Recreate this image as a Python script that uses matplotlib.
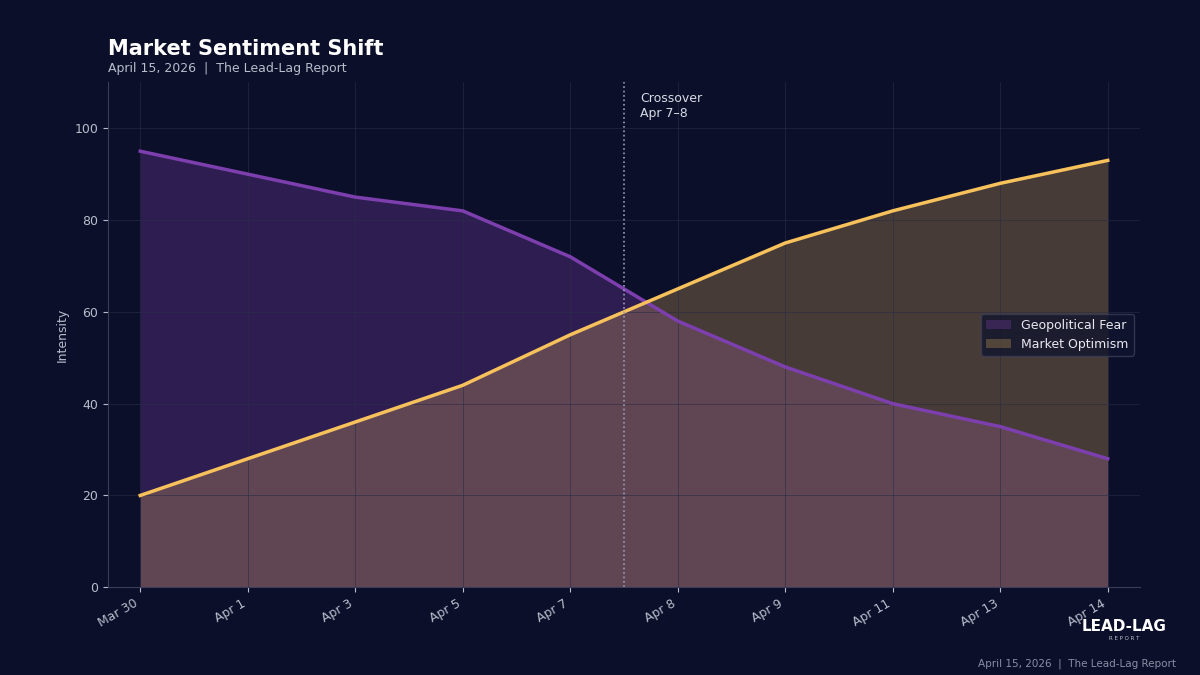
import matplotlib.pyplot as plt

# ---- Data ----
dates = ["Mar 30", "Apr 1", "Apr 3", "Apr 5", "Apr 7", "Apr 8", "Apr 9", "Apr 11", "Apr 13", "Apr 14"]
fear = [95, 90, 85, 82, 72, 58, 48, 40, 35, 28]
optimism = [20, 28, 36, 44, 55, 65, 75, 82, 88, 93]
crossover_pos = 4.5

BG = "#0c0f2a"
FEAR_C = "#7d3fae"
OPT_C = "#f7c15c"
TXT = "#b8bccb"

fig = plt.figure(figsize=(12, 6.75), dpi=100, facecolor=BG)
ax = fig.add_axes([0.09, 0.13, 0.86, 0.748], facecolor=BG)
x = list(range(len(dates)))

ax.fill_between(x, fear, color=FEAR_C, alpha=0.3, linewidth=0, label="Geopolitical Fear")
ax.fill_between(x, optimism, color=OPT_C, alpha=0.25, linewidth=0, label="Market Optimism")
ax.plot(x, fear, color=FEAR_C, lw=2.5)
ax.plot(x, optimism, color=OPT_C, lw=2.5)

ax.axvline(crossover_pos, color="#9a9cb8", ls=":", lw=1.2)
ax.text(crossover_pos + 0.15, 108, "Crossover\nApr 7\u20138", color="#d8dae4", fontsize=9, va="top")

ax.set_xlim(-0.3, 9.3)
ax.set_ylim(0, 110)
ax.set_yticks([0, 20, 40, 60, 80, 100])
ax.set_xticks(x)
ax.set_xticklabels(dates, rotation=30, ha="right")
ax.tick_params(colors=TXT, labelsize=9)
ax.grid(True, color="#2a2d48", lw=0.6, alpha=0.7)
for s in ["top", "right"]:
    ax.spines[s].set_visible(False)
for s in ["left", "bottom"]:
    ax.spines[s].set_color("#3a3d58")
ax.set_ylabel("Intensity", color=TXT, fontsize=9)

leg = ax.legend(loc="center right", facecolor="#12152e", edgecolor="#3a3d58", fontsize=9)
for t in leg.get_texts():
    t.set_color("#e8e9f0")

fig.text(0.09, 0.918, "Market Sentiment Shift", color="white", fontsize=15, fontweight="bold")
fig.text(0.09, 0.893, "April 15, 2026  |  The Lead-Lag Report", color=TXT, fontsize=9)
fig.text(0.98, 0.012, "April 15, 2026  |  The Lead-Lag Report", color="#8a8ea3", fontsize=7.5, ha="right")
fig.text(0.937, 0.065, "LEAD-LAG", color="white", fontsize=11, fontweight="bold", ha="center")
fig.text(0.937, 0.052, "R E P O R T", color="#c0c2d0", fontsize=4, ha="center")

fig.savefig("out.png", dpi=100, facecolor=BG)
